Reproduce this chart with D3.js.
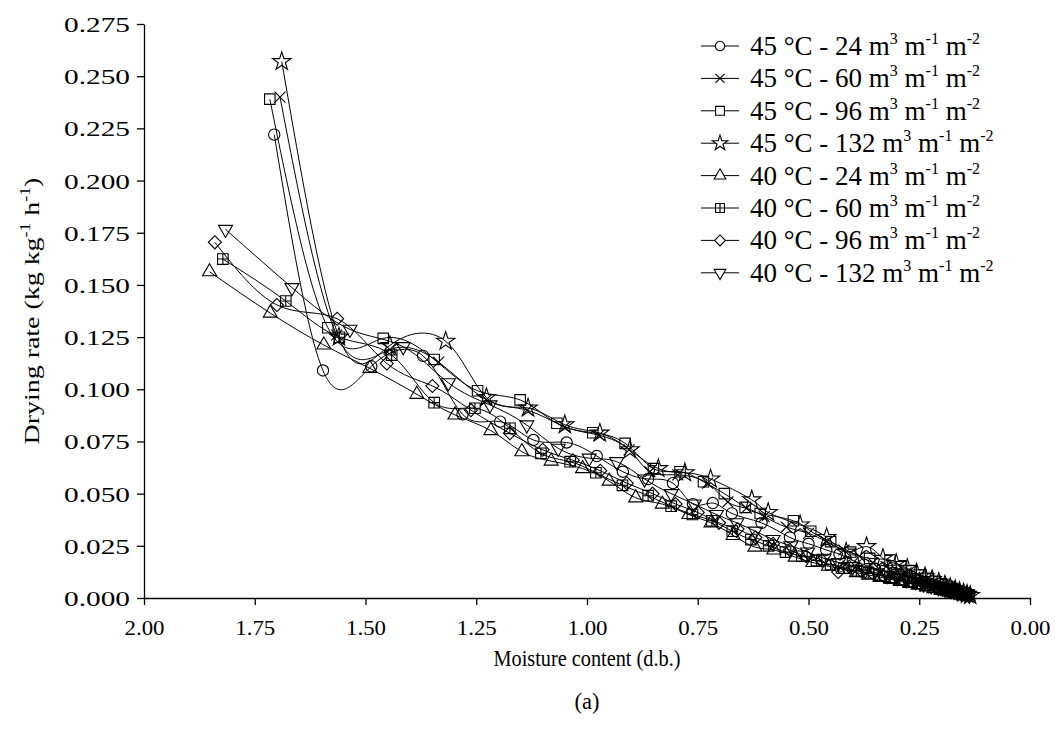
<!DOCTYPE html>
<html><head><meta charset="utf-8">
<script src="https://cdn.jsdelivr.net/npm/d3@7"></script>
<style>body{margin:0;background:#fff}svg{display:block}text{font-family:"Liberation Serif","Times New Roman",serif;fill:#000}</style>
</head><body><svg id="c" width="1055" height="742"></svg>
<script>
const xTicks=[2.00,1.75,1.50,1.25,1.00,0.75,0.50,0.25,0.00];
const yTicks=[0,0.025,0.05,0.075,0.1,0.125,0.15,0.175,0.2,0.225,0.25,0.275];
const seriesNames=["45 °C - 24","45 °C - 60","45 °C - 96","45 °C - 132","40 °C - 24","40 °C - 60","40 °C - 96","40 °C - 132"];
const seriesMarkers=["circle","x","square","star","triangle","grid","diamond","down"];
const s45_24=[[1.706,0.222],[1.596,0.109],[1.487,0.111],[1.370,0.116],[1.281,0.088],[1.196,0.0845],[1.121,0.0757],[1.046,0.0745],[0.978,0.068],[0.919,0.0605],[0.862,0.057],[0.806,0.055],[0.761,0.045],[0.716,0.0455],[0.673,0.0405],[0.606,0.036],[0.542,0.029],[0.50,0.026],[0.46,0.023],[0.43,0.021],[0.40,0.018],[0.375,0.016],[0.35,0.014],[0.33,0.013],[0.31,0.012],[0.29,0.011],[0.27,0.0095],[0.255,0.0085],[0.24,0.0075],[0.225,0.0065],[0.21,0.0055],[0.198,0.0048],[0.186,0.004],[0.175,0.0033],[0.165,0.0027],[0.155,0.0022],[0.145,0.0017],[0.138,0.0013]];
const s45_60=[[1.693,0.240],[1.565,0.126],[1.445,0.119],[1.335,0.113],[1.227,0.095],[1.135,0.090],[1.050,0.082],[0.973,0.078],[0.905,0.071],[0.858,0.0605],[0.795,0.059],[0.728,0.055],[0.682,0.046],[0.640,0.043],[0.600,0.039],[0.550,0.034],[0.500,0.031],[0.460,0.027],[0.420,0.023],[0.385,0.020],[0.355,0.017],[0.325,0.015],[0.300,0.013],[0.280,0.012],[0.260,0.010],[0.242,0.009],[0.226,0.008],[0.211,0.007],[0.197,0.006],[0.184,0.005],[0.172,0.004],[0.161,0.003],[0.151,0.0024],[0.143,0.0018],[0.136,0.0013]];
const s45_96=[[1.716,0.239],[1.585,0.1295],[1.460,0.1244],[1.345,0.1143],[1.247,0.0993],[1.151,0.0949],[1.068,0.0837],[0.987,0.0792],[0.914,0.0741],[0.850,0.062],[0.790,0.0605],[0.737,0.0557],[0.690,0.050],[0.643,0.0434],[0.609,0.0405],[0.534,0.037],[0.495,0.032],[0.450,0.027],[0.405,0.022],[0.362,0.019],[0.316,0.0182],[0.290,0.015],[0.268,0.013],[0.248,0.011],[0.230,0.0095],[0.214,0.008],[0.200,0.0068],[0.187,0.0056],[0.175,0.0045],[0.164,0.0035],[0.154,0.0027],[0.145,0.002],[0.138,0.0015]];
const s45_132=[[1.689,0.257],[1.560,0.125],[1.445,0.121],[1.319,0.123],[1.227,0.096],[1.133,0.091],[1.050,0.083],[0.971,0.079],[0.903,0.071],[0.839,0.062],[0.779,0.060],[0.721,0.057],[0.628,0.047],[0.591,0.041],[0.519,0.035],[0.459,0.029],[0.415,0.022],[0.369,0.0246],[0.332,0.019],[0.302,0.0165],[0.277,0.0142],[0.256,0.012],[0.237,0.0102],[0.221,0.0088],[0.206,0.0075],[0.192,0.0062],[0.180,0.005],[0.169,0.004],[0.159,0.0031],[0.150,0.0024],[0.142,0.0018],[0.135,0.0012]];
const s40_24=[[1.852,0.1563],[1.715,0.1365],[1.594,0.1212],[1.490,0.110],[1.384,0.0976],[1.298,0.0877],[1.217,0.0802],[1.147,0.0701],[1.081,0.0656],[1.010,0.062],[0.950,0.056],[0.890,0.048],[0.830,0.045],[0.770,0.040],[0.720,0.036],[0.670,0.030],[0.621,0.0244],[0.578,0.023],[0.530,0.0196],[0.490,0.017],[0.455,0.0152],[0.422,0.0138],[0.392,0.0122],[0.364,0.011],[0.338,0.0099],[0.314,0.0089],[0.292,0.0079],[0.271,0.007],[0.252,0.0061],[0.234,0.0053],[0.217,0.0045],[0.201,0.0038],[0.187,0.0032],[0.174,0.0026],[0.162,0.0021],[0.151,0.0016],[0.141,0.0012]];
const s40_60=[[1.822,0.1624],[1.680,0.1423],[1.559,0.1249],[1.441,0.1164],[1.345,0.0936],[1.253,0.0909],[1.174,0.0813],[1.104,0.0693],[1.038,0.0653],[0.980,0.060],[0.920,0.054],[0.862,0.049],[0.810,0.044],[0.762,0.040],[0.718,0.037],[0.672,0.032],[0.630,0.028],[0.590,0.025],[0.552,0.022],[0.515,0.020],[0.482,0.018],[0.450,0.016],[0.420,0.0143],[0.392,0.0131],[0.365,0.012],[0.340,0.0109],[0.316,0.0099],[0.294,0.0089],[0.273,0.008],[0.254,0.0071],[0.236,0.0062],[0.219,0.0053],[0.203,0.0045],[0.189,0.0037],[0.176,0.003],[0.164,0.0024],[0.153,0.0019],[0.143,0.0014]];
const s40_96=[[1.840,0.1704],[1.700,0.1404],[1.564,0.1338],[1.452,0.1124],[1.349,0.1016],[1.262,0.090],[1.174,0.0789],[1.100,0.071],[1.032,0.066],[0.970,0.061],[0.910,0.055],[0.852,0.050],[0.800,0.045],[0.750,0.041],[0.702,0.036],[0.660,0.033],[0.620,0.029],[0.580,0.026],[0.542,0.023],[0.505,0.020],[0.470,0.018],[0.433,0.0125],[0.408,0.015],[0.380,0.0128],[0.354,0.0116],[0.330,0.0105],[0.307,0.0094],[0.286,0.0084],[0.266,0.0074],[0.247,0.0065],[0.229,0.0056],[0.212,0.0048],[0.197,0.004],[0.183,0.0033],[0.170,0.0027],[0.158,0.0021],[0.148,0.0016],[0.139,0.0012]];
const s40_132=[[1.816,0.1766],[1.666,0.1487],[1.535,0.1287],[1.415,0.1204],[1.313,0.1031],[1.219,0.0925],[1.136,0.0829],[1.065,0.0717],[0.995,0.067],[0.933,0.0653],[0.870,0.057],[0.810,0.050],[0.758,0.045],[0.708,0.040],[0.662,0.036],[0.620,0.032],[0.580,0.028],[0.540,0.025],[0.502,0.022],[0.465,0.019],[0.432,0.017],[0.400,0.015],[0.372,0.0133],[0.346,0.012],[0.322,0.0108],[0.299,0.0097],[0.278,0.0087],[0.258,0.0077],[0.240,0.0067],[0.223,0.0058],[0.207,0.005],[0.192,0.0042],[0.178,0.0035],[0.166,0.0028],[0.155,0.0022],[0.145,0.0017],[0.137,0.0012]];
const allSeries=[s45_24,s45_60,s45_96,s45_132,s40_24,s40_60,s40_96,s40_132];

const FF='"Liberation Serif","Times New Roman",serif';
const svg=d3.select("#c");
const L=144,R=1030,T=24,B=598;
const x=d3.scaleLinear().domain([2,0]).range([L,R]);
const y=d3.scaleLinear().domain([0,0.275]).range([B,T]);

const xa=svg.append("g").attr("transform",`translate(0,${B})`)
 .call(d3.axisBottom(x).tickValues(xTicks).tickFormat(d3.format(".2f")).tickSize(7).tickSizeOuter(0));
const ya=svg.append("g").attr("transform",`translate(${L},0)`)
 .call(d3.axisLeft(y).tickValues(yTicks).tickFormat(d3.format(".3f")).tickSize(7).tickSizeOuter(0));
[xa,ya].forEach(g=>{g.attr("font-family",FF);g.selectAll("path,line").attr("stroke","#000").attr("stroke-width",1.3);
 g.selectAll("text").style("font-family",FF).style("font-size","22px").attr("fill","#000").attr("lengthAdjust","spacingAndGlyphs");});
xa.selectAll("text").attr("dy",null).attr("y",37).attr("textLength",40);
ya.selectAll("text").attr("x",-14).attr("dy","0.34em").attr("textLength",66);

function markerPath(type,sz){
 const s=sz||1;
 switch(type){
  case "circle": return d3.symbol(d3.symbolCircle,100*s)();
  case "x": return d3.symbol(d3.symbolTimes,80*s)();
  case "square": return d3.symbol(d3.symbolSquare,110*s)();
  case "star": return d3.symbol(d3.symbolStar,105*s)();
  case "triangle": return d3.symbol(d3.symbolTriangle,85*s)();
  case "down": return d3.symbol(d3.symbolTriangle,85*s)();
  case "diamond": return d3.symbol(d3.symbolSquare,85*s)();
  case "grid": { const h=5.3*Math.sqrt(s); return `M${-h},${-h}H${h}V${h}H${-h}Z M0,${-h}V${h} M${-h},0H${h}`; }
 }
}
function markerRot(type){return type==="down"?"rotate(180)":type==="diamond"?"rotate(45)":"";}

const line=d3.line().x(d=>x(d[0])).y(d=>y(d[1])).curve(d3.curveNatural);
const plot=svg.append("g");
allSeries.forEach((data,i)=>{
 plot.append("path").datum(data).attr("d",line).attr("fill","none").attr("stroke","#000").attr("stroke-width",1);
});
allSeries.forEach((data,i)=>{
 const m=seriesMarkers[i];
 plot.append("g").selectAll("path").data(data).join("path")
  .attr("transform",d=>`translate(${x(d[0])},${y(d[1])}) ${markerRot(m)}`)
  .attr("d",markerPath(m)).attr("fill","none").attr("stroke","#000").attr("stroke-width",1.1);
});

// legend
const lg=svg.append("g");
seriesNames.forEach((n,i)=>{
 const yy=46+i*32.4;
 lg.append("line").attr("x1",701).attr("x2",739).attr("y1",yy).attr("y2",yy).attr("stroke","#000").attr("stroke-width",1);
 lg.append("path").attr("transform",`translate(720,${yy}) ${markerRot(seriesMarkers[i])}`)
  .attr("d",markerPath(seriesMarkers[i],0.7)).attr("fill","#fff").attr("stroke","#000").attr("stroke-width",1.1);
 const t=lg.append("text").attr("x",750).attr("y",yy+9).style("font-size","27px");
 t.append("tspan").text(n+" m");
 t.append("tspan").attr("dy",-11).style("font-size","16px").text("3");
 t.append("tspan").attr("dy",11).text(" m");
 t.append("tspan").attr("dy",-11).style("font-size","16px").text("-1");
 t.append("tspan").attr("dy",11).text(" m");
 t.append("tspan").attr("dy",-11).style("font-size","16px").text("-2");
});

// axis titles
const yt=svg.append("text").attr("text-anchor","middle").style("font-size","22px");
yt.append("tspan").text("Drying rate (kg kg");
yt.append("tspan").attr("dy",-9).style("font-size","14px").text("-1");
yt.append("tspan").attr("dy",9).text(" h");
yt.append("tspan").attr("dy",-9).style("font-size","14px").text("-1");
yt.append("tspan").attr("dy",9).text(")");
const ylen=yt.node().getComputedTextLength();
yt.attr("transform",`translate(39,311) rotate(-90) scale(${267/ylen},1)`);
svg.append("text").attr("x",587).attr("y",666).attr("text-anchor","middle").style("font-size","24px")
 .attr("textLength",187).attr("lengthAdjust","spacingAndGlyphs").text("Moisture content (d.b.)");
svg.append("text").attr("x",587).attr("y",709).attr("text-anchor","middle").style("font-size","24px")
 .attr("textLength",25).attr("lengthAdjust","spacingAndGlyphs").text("(a)");
</script></body></html>
